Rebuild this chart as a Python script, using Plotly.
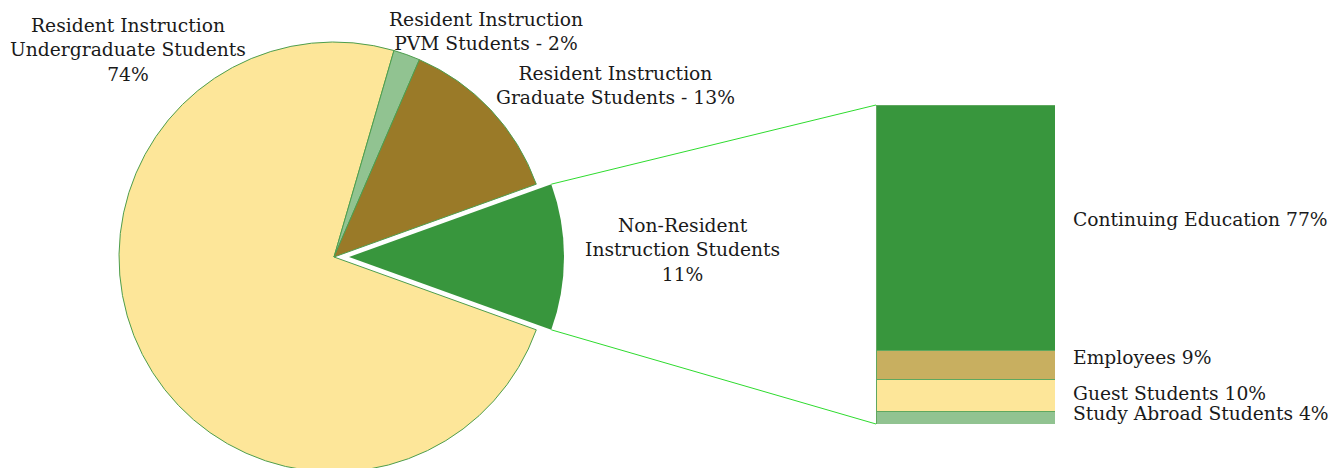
import math
import plotly.graph_objects as go

# ─── Data ─────────────────────────────────────────────────────────────────────

pie_labels = [
    "Non-Resident<br>Instruction Students<br>11%",
    "Resident Instruction<br>Undergraduate Students<br>74%",
    "Resident Instruction<br>PVM Students - 2%",
    "Resident Instruction<br>Graduate Students - 13%",
]
pie_values = [11, 74, 2, 13]
pie_colors = ["#38963D", "#FDE699", "#91C391", "#9A7A28"]

bar_labels = ["Study Abroad Students 4%", "Guest Students 10%",
              "Employees 9%", "Continuing Education 77%"]
bar_values = [4, 10, 9, 77]
bar_colors = ["#91C391", "#FDE699", "#C8AF60", "#38963D"]

# ─── Layout geometry (screen pixels) ──────────────────────────────────────────

W, H = 1343, 468
OFFSET = 8  # page body margin
PIE_CX, PIE_CY, PIE_R = 334, 257, 215
PULL_PX = 15
BAR_X0, BAR_X1, BAR_Y0, BAR_Y1 = 876, 1055, 105, 424
FONT = "DejaVu Serif"
OUTLINE = "#4E9E4E"
CONNECTOR = "#2EDB2E"


def px_x(v):
    return (v - OFFSET) / W


def px_y(v):
    return 1 - (v - OFFSET) / H


total = sum(pie_values)
half_angle = pie_values[0] / total * 360 / 2
rotation = 90 - half_angle

fig = go.Figure()

# resident slices (non-resident slot left transparent)
fig.add_trace(go.Pie(
    values=pie_values, labels=pie_labels, sort=False, direction="clockwise",
    rotation=rotation, textinfo="none", hoverinfo="skip",
    marker=dict(colors=["rgba(0,0,0,0)"] + pie_colors[1:],
                line=dict(color=OUTLINE, width=[0, 1, 1, 1])),
    domain=dict(x=[px_x(PIE_CX - PIE_R), px_x(PIE_CX + PIE_R)],
                y=[max(0, px_y(PIE_CY + PIE_R)), px_y(PIE_CY - PIE_R)]),
))

# exploded non-resident slice
fig.add_trace(go.Pie(
    values=pie_values, labels=pie_labels, sort=False, direction="clockwise",
    rotation=rotation, textinfo="none", hoverinfo="skip",
    marker=dict(colors=[pie_colors[0]] + ["rgba(0,0,0,0)"] * 3,
                line=dict(color=OUTLINE, width=0)),
    domain=dict(x=[px_x(PIE_CX + PULL_PX - PIE_R), px_x(PIE_CX + PULL_PX + PIE_R)],
                y=[max(0, px_y(PIE_CY + PIE_R)), px_y(PIE_CY - PIE_R)]),
))

# stacked breakdown bar
for lab, val, col in zip(bar_labels, bar_values, bar_colors):
    fig.add_trace(go.Bar(
        x=[0], y=[val], name=lab, width=1, hoverinfo="skip",
        marker=dict(color=col, line=dict(color="#5FA85F", width=1)),
        xaxis="x2", yaxis="y2",
    ))

# bar labels near segment middles
cum = 0
label_shift = [4, 2, 7, 8]
for lab, val, sh in zip(bar_labels, bar_values, label_shift):
    fig.add_annotation(
        x=px_x(BAR_X1 + 16), xref="paper", xanchor="left",
        y=cum + val / 2, yref="y2", yanchor="middle", yshift=sh,
        text=lab, showarrow=False,
    )
    cum += val

# pie labels
pie_label_pos = [(683, 250), (128, 50), (486, 31), (615, 86)]
for lab, (lx, ly) in zip(pie_labels, pie_label_pos):
    fig.add_annotation(
        x=px_x(lx), y=px_y(ly), xref="paper", yref="paper",
        xanchor="center", yanchor="middle", align="center",
        text=lab, showarrow=False,
    )

# connector lines from exploded slice to bar
for ang, by in [(rotation, BAR_Y0), (rotation + 2 * half_angle, BAR_Y1)]:
    a = math.radians(ang)
    sx = PIE_CX + PULL_PX + PIE_R * math.sin(a)
    sy = PIE_CY - PIE_R * math.cos(a)
    fig.add_shape(type="line", xref="paper", yref="paper",
                  x0=px_x(sx), y0=px_y(sy), x1=px_x(BAR_X0), y1=px_y(by),
                  line=dict(color=CONNECTOR, width=1))

fig.update_layout(
    width=W, height=H,
    margin=dict(l=0, r=0, t=0, b=0),
    paper_bgcolor="white", plot_bgcolor="white",
    showlegend=False, barmode="stack",
    font=dict(family=FONT, size=18.7, color="#1a1a1a"),
    xaxis2=dict(domain=[px_x(BAR_X0), px_x(BAR_X1)], range=[-0.5, 0.5],
                visible=False, anchor="y2", fixedrange=True),
    yaxis2=dict(domain=[px_y(BAR_Y1), px_y(BAR_Y0)], range=[0, 100],
                visible=False, anchor="x2", fixedrange=True),
)

fig.write_html("out.html")
